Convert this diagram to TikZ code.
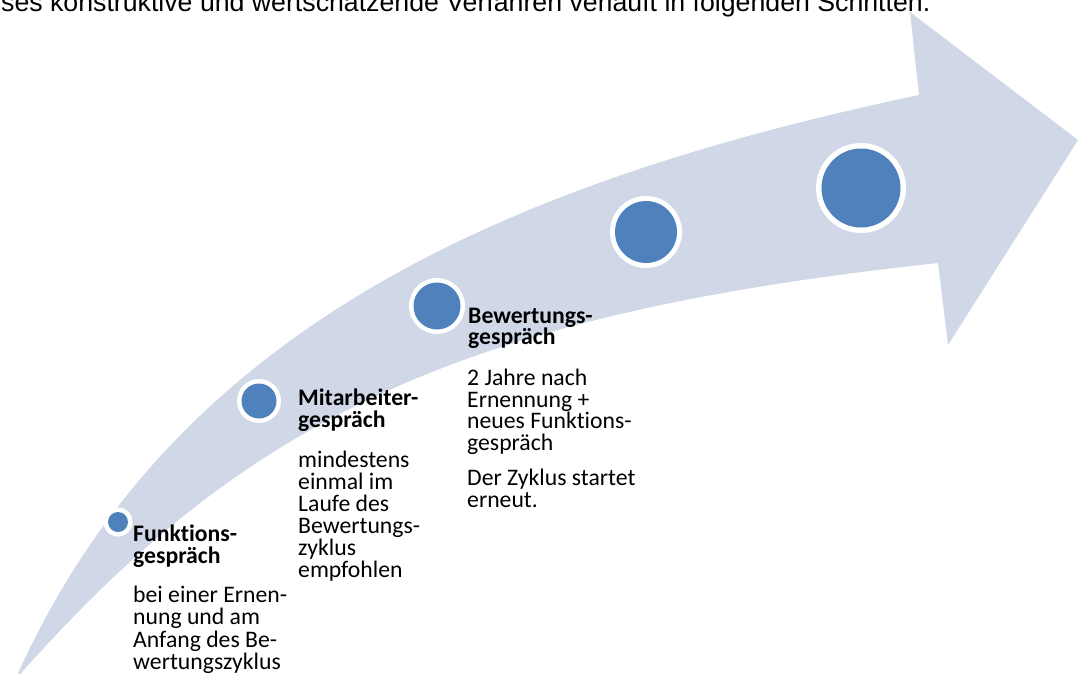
\documentclass[tikz,border=0pt]{standalone}
\usepackage{fontspec}
\setmainfont{Carlito}[Ligatures={NoCommon}]
\newfontfamily\arialfont{Liberation Sans}
\definecolor{band}{HTML}{D0D8E8}
\definecolor{dot}{HTML}{4F81BD}
\tikzset{
  ring/.style={circle, fill=white, inner sep=0pt},
  dotc/.style={circle, fill=dot, inner sep=0pt},
  ttl/.style={anchor=base west, inner sep=0pt, font=\fontsize{23.7}{22}\selectfont\bfseries},
  bod/.style={anchor=base west, inner sep=0pt, font=\fontsize{23.7}{22}\selectfont},
  head/.style={anchor=base west, inner sep=0pt, font=\arialfont\fontsize{26.7}{30}\selectfont}
}
\begin{document}
\begin{tikzpicture}[x=1pt, y=-1pt]
\useasboundingbox (0,0) rectangle (1078,674);
\clip (0,0) rectangle (1078,674);
% curved arrow
\fill[band] (15,680) .. controls (170,330) and (502,183) .. (919,95)
  -- (910,12) -- (1078,140) -- (948,345) -- (938,263)
  .. controls (455,315) and (243,421) .. (15,680) -- cycle;
% circles
\node[ring, minimum size=29pt] (r1) at (118,522) {};
\node[dotc, minimum size=20pt] (c1) at (r1) {};
\node[ring, minimum size=44pt] (r2) at (259,401) {};
\node[dotc, minimum size=35pt] (c2) at (r2) {};
\node[ring, minimum size=56pt] (r3) at (437,306) {};
\node[dotc, minimum size=47pt] (c3) at (r3) {};
\node[ring, minimum size=72pt] (r4) at (646,232) {};
\node[dotc, minimum size=62pt] (c4) at (r4) {};
\node[ring, minimum size=90pt] (r5) at (861,188) {};
\node[dotc, minimum size=79pt] (c5) at (r5) {};
% heading line (clipped)
\node[head] (h) at (1,12) {ses konstruktive und wertschätzende Verfahren verläuft in folgenden Schritten.};
% Funktionsgespräch
\node[ttl] (f1) at (133,541) {Funktions-};
\node[ttl] (f2) at (133,563) {gespräch};
\node[bod] (f3) at (133,602) {bei einer Ernen-};
\node[bod] (f4) at (133,624) {nung und am};
\node[bod] (f5) at (133,647) {Anfang des Be-};
\node[bod] (f6) at (133,669) {wertungszyklus};
% Mitarbeitergespräch
\node[ttl] (m1) at (298,405) {Mitarbeiter-};
\node[ttl] (m2) at (298,427) {gespräch};
\node[bod] (m3) at (298,467) {mindestens};
\node[bod] (m4) at (298,489) {einmal im};
\node[bod] (m5) at (298,511) {Laufe des};
\node[bod] (m6) at (298,533) {Bewertungs-};
\node[bod] (m7) at (298,555) {zyklus};
\node[bod] (m8) at (298,577) {empfohlen};
% Bewertungsgespräch
\node[ttl] (b1) at (468,323) {Bewertungs-};
\node[ttl] (b2) at (468,344) {gespräch};
\node[bod] (b3) at (467,385) {2 Jahre nach};
\node[bod] (b4) at (467,407) {Ernennung +};
\node[bod] (b5) at (467,428) {neues Funktions-};
\node[bod] (b6) at (467,450) {gespräch};
\node[bod] (b7) at (467,485) {Der Zyklus startet};
\node[bod] (b8) at (467,507) {erneut.};
\end{tikzpicture}
\end{document}
